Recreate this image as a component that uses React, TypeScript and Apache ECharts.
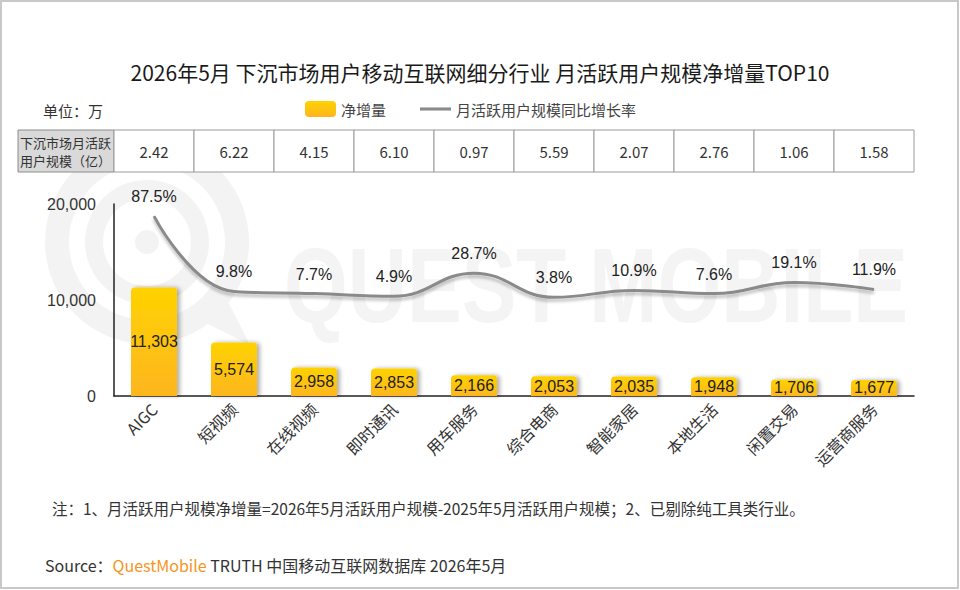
import React, { useEffect, useRef } from "react";
import * as echarts from "echarts";

const categories = ["AIGC", "短视频", "在线视频", "即时通讯", "用车服务", "综合电商", "智能家居", "本地生活", "闲置交易", "运营商服务"];
const netIncrease = [11303, 5574, 2958, 2853, 2166, 2053, 2035, 1948, 1706, 1677];
const yoyGrowth = [87.5, 9.8, 7.7, 4.9, 28.7, 3.8, 10.9, 7.6, 19.1, 11.9];
const mauScale = ["2.42", "6.22", "4.15", "6.10", "0.97", "5.59", "2.07", "2.76", "1.06", "1.58"];
const yMin = 0;
const yMax = 20000;
const yInterval = 10000;

const titleText = "2026年5月 下沉市场用户移动互联网细分行业 月活跃用户规模净增量TOP10";
const unitText = "单位：万";
const tableHeaderLines = ["下沉市场月活跃", "用户规模（亿）"];
const noteText = "注：1、月活跃用户规模净增量=2026年5月活跃用户规模-2025年5月活跃用户规模；2、已剔除纯工具类行业。";
const barName = "净增量";
const lineName = "月活跃用户规模同比增长率";

const CJK = "'Noto Sans CJK SC', 'Microsoft YaHei', sans-serif";
const NUM = "'Liberation Sans', Arial, 'Noto Sans CJK SC', sans-serif";

export default function App() {
  const ref = useRef<HTMLDivElement>(null);
  useEffect(() => {
    if (!ref.current) return;
    const chart = echarts.init(ref.current, null, { renderer: "svg" });
    chart.setOption({
      animation: false,
      backgroundColor: "#ffffff",
      title: {
        text: titleText,
        left: "center",
        top: 56,
        textStyle: { fontFamily: CJK, fontSize: 21, fontWeight: "normal", color: "#1a1a1a" },
      },
      legend: {
        left: 305,
        top: 101,
        itemGap: 34,
        itemWidth: 31,
        itemHeight: 16,
        padding: 0,
        textStyle: { fontFamily: CJK, fontSize: 15, color: "#444" },
        data: [
          { name: barName, icon: "roundRect" },
          { name: lineName, icon: "path://M0 0 H30 V3 H0 Z", itemStyle: { color: "#8a8a8a" } },
        ],
      },
      grid: { left: 114, right: 46, top: 204, bottom: 194 },
      xAxis: {
        type: "category",
        data: categories,
        axisLine: { lineStyle: { color: "#222", width: 1.5 } },
        axisTick: { show: false },
        axisLabel: { rotate: 45, fontFamily: CJK, fontSize: 16, color: "#333", margin: 10, interval: 0 },
      },
      yAxis: [
        {
          type: "value",
          min: yMin,
          max: yMax,
          interval: yInterval,
          axisLine: { show: true, lineStyle: { color: "#222", width: 1.5 } },
          axisTick: { show: false },
          splitLine: { show: false },
          axisLabel: {
            fontFamily: NUM,
            fontSize: 16,
            color: "#333",
            margin: 18,
            formatter: (v: number) => v.toLocaleString("en-US"),
          },
        },
        { type: "value", min: -98, max: 100, show: false, splitLine: { show: false } },
      ],
      series: [
        {
          name: barName,
          type: "bar",
          data: netIncrease,
          barWidth: 46,
          itemStyle: {
            borderRadius: [4, 4, 0, 0],
            color: new echarts.graphic.LinearGradient(0, 0, 0, 1, [
              { offset: 0, color: "#FFD200" },
              { offset: 1, color: "#FDB61F" },
            ]),
            shadowColor: "rgba(0,0,0,0.3)",
            shadowBlur: 4,
            shadowOffsetX: 3,
            shadowOffsetY: 0,
          },
          label: {
            show: true,
            position: "inside",
            fontFamily: NUM,
            fontSize: 16,
            color: "#222",
            formatter: (p: any) => Number(p.value).toLocaleString("en-US"),
          },
          z: 2,
        },
        {
          name: lineName,
          type: "line",
          yAxisIndex: 1,
          data: yoyGrowth,
          smooth: 0.45,
          symbol: "circle",
          symbolSize: 1,
          showSymbol: true,
          lineStyle: {
            color: "#8a8a8a",
            width: 3,
            shadowColor: "rgba(0,0,0,0.25)",
            shadowBlur: 3,
            shadowOffsetY: 3,
          },
          itemStyle: { color: "rgba(0,0,0,0)" },
          label: {
            show: true,
            position: "top",
            distance: 11,
            fontFamily: NUM,
            fontSize: 16,
            color: "#222",
            formatter: (p: any) => `${p.value}%`,
          },
          z: 3,
        },
      ],
    });

    const centers = categories.map((c) => (chart.convertToPixel({ xAxisIndex: 0 }, c) as number));
    const band = centers.length > 1 ? centers[1] - centers[0] : 80;
    const tTop = 130;
    const tH = 42;
    const headLeft = 18;
    const firstLeft = centers[0] - band / 2;

    const graphics: any[] = [];
    graphics.push({
      type: "rect",
      shape: { x: 1, y: 1, width: 957, height: 587 },
      style: { fill: "none", stroke: "#c8c8c8", lineWidth: 2 },
      z: 100,
      silent: true,
    });
    const wm = "#f3f3f3";
    graphics.push({ type: "ring", shape: { cx: 147, cy: 242, r: 102, r0: 78 }, style: { fill: wm }, z: -10, silent: true });
    graphics.push({ type: "ring", shape: { cx: 147, cy: 242, r: 62, r0: 44 }, style: { fill: wm }, z: -10, silent: true });
    graphics.push({ type: "circle", shape: { cx: 147, cy: 242, r: 12 }, style: { fill: wm }, z: -10, silent: true });
    graphics.push({
      type: "polygon",
      shape: { points: [[200, 320], [250, 345], [222, 290]] },
      style: { fill: wm },
      z: -10,
      silent: true,
    });
    graphics.push({
      type: "text",
      x: 284,
      y: 232,
      scaleY: 1.3,
      style: {
        text: "QUEST MOBILE",
        fill: "#f4f4f4",
        font: "bold 82px 'Liberation Sans', Arial, sans-serif",
        textVerticalAlign: "top",
      },
      z: -10,
      silent: true,
    });
    graphics.push({
      type: "text",
      x: 43,
      y: 110,
      style: { text: unitText, fill: "#333", font: `15px ${CJK}`, textVerticalAlign: "middle" },
    });
    graphics.push({
      type: "rect",
      shape: { x: headLeft, y: tTop, width: firstLeft - headLeft, height: tH },
      style: { fill: "#d9d9d9", stroke: "#8c8c8c", lineWidth: 1 },
    });
    tableHeaderLines.forEach((line, k) => {
      graphics.push({
        type: "text",
        x: headLeft + 2,
        y: tTop + 12 + k * 18,
        style: { text: line, fill: "#333", font: `13px ${CJK}`, textVerticalAlign: "middle" },
      });
    });
    centers.forEach((cx, i) => {
      graphics.push({
        type: "rect",
        shape: { x: cx - band / 2, y: tTop, width: band, height: tH },
        style: { fill: "#fff", stroke: "#9a9a9a", lineWidth: 1 },
      });
      graphics.push({
        type: "text",
        x: cx,
        y: tTop + tH / 2,
        style: {
          text: mauScale[i],
          fill: "#333",
          font: `15px ${CJK}`,
          textAlign: "center",
          textVerticalAlign: "middle",
        },
      });
    });
    graphics.push({
      type: "text",
      x: 52,
      y: 508,
      style: { text: noteText, fill: "#333", font: `15.5px ${CJK}`, textVerticalAlign: "middle" },
    });
    graphics.push({
      type: "text",
      x: 45,
      y: 565,
      style: {
        text: "{a|Source：}{b|QuestMobile}{a| TRUTH 中国移动互联网数据库 2026年5月}",
        textVerticalAlign: "middle",
        rich: {
          a: { fill: "#333", font: `16px ${CJK}` },
          b: { fill: "#F7941D", font: `16px ${CJK}` },
        },
      },
    });
    chart.setOption({ graphic: graphics });

    return () => chart.dispose();
  }, []);
  return (
    <div
      ref={ref}
      style={{ position: "fixed", left: 0, top: 0, width: 960, height: 590, background: "#fff" }}
    />
  );
}
